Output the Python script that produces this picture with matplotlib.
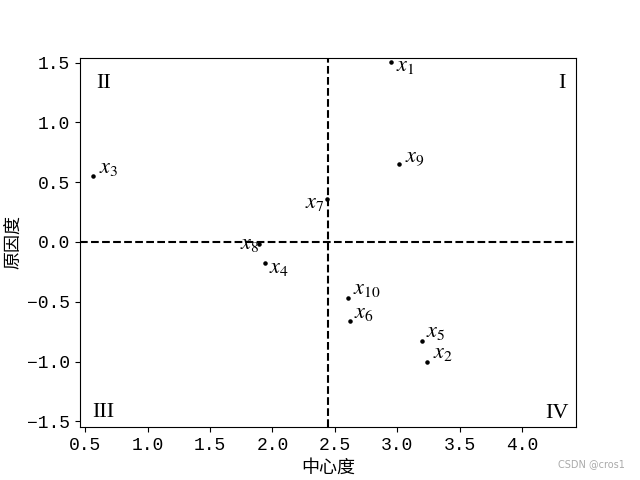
import matplotlib
matplotlib.use('Agg')
import matplotlib.pyplot as plt
import numpy as np

plt.rcParams['font.family'] = ['Liberation Mono', 'Noto Sans CJK SC']
plt.rcParams['font.size'] = 13
plt.rcParams['mathtext.fontset'] = 'stix'

# centre degree (x) and cause degree (y) for each factor
names = ['x1', 'x2', 'x3', 'x4', 'x5', 'x6', 'x7', 'x8', 'x9', 'x10']
center = [2.948, 3.242, 0.559, 1.942, 3.199, 2.621, 2.438, 1.891, 3.018, 2.608]
cause = [1.503, -1.003, 0.551, -0.173, -0.825, -0.663, 0.358, -0.019, 0.654, -0.466]

# label offsets in pixels
offsets = [(5, -9), (6, 4), (6, 3), (4, -10), (4, 4), (4, 3),
           (-22, -9), (-19, -5), (6, 1), (5, 4)]

fig = plt.figure(figsize=(6.4, 4.8), dpi=100)
ax = plt.gca()

plt.scatter(center, cause, s=5, c='k', zorder=3)
for i in range(len(names)):
    lab = '$x_{%s}$' % names[i][1:]
    ax.annotate(lab, (center[i], cause[i]), xytext=offsets[i],
                textcoords='offset pixels', fontsize=16)

plt.axvline(np.mean(center), color='k', ls='--', lw=1.5)
plt.axhline(0, color='k', ls='--', lw=1.5)

plt.text(4.352, 1.289, 'I', fontsize=16, family='Liberation Serif', ha='right')
plt.text(0.586, 1.289, 'II', fontsize=16, family='Liberation Serif', ha='left')
plt.text(0.559, -1.462, 'III', fontsize=16, family='Liberation Serif', ha='left')
plt.text(4.375, -1.471, 'IV', fontsize=16, family='Liberation Serif', ha='right')

plt.xlim(0.457, 4.433)
plt.ylim(-1.549, 1.541)
plt.xticks([0.5, 1.0, 1.5, 2.0, 2.5, 3.0, 3.5, 4.0])
plt.yticks([-1.5, -1.0, -0.5, 0.0, 0.5, 1.0, 1.5])
plt.xlabel('中心度')
plt.ylabel('原因度')

fig.text(0.977, 0.027, 'CSDN @cros1', fontsize=7, color='#aaaaaa',
         family='DejaVu Sans', ha='right')

plt.savefig('out.png', dpi=100)
